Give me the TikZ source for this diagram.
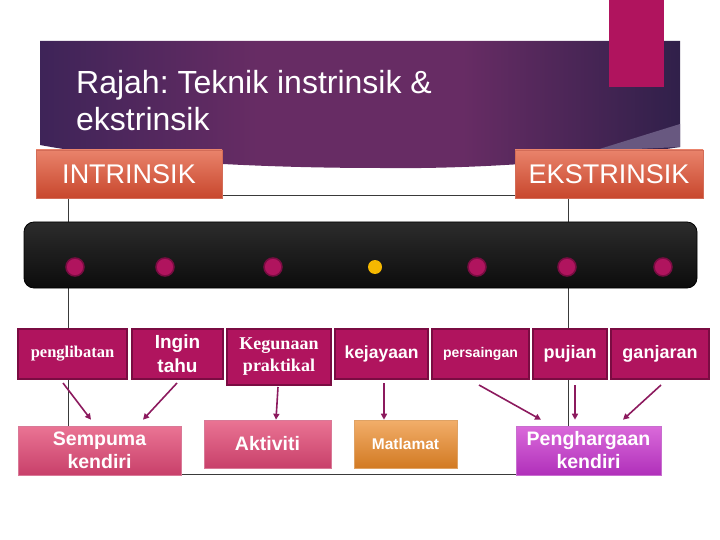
\documentclass[tikz,border=0pt]{standalone}
\usepackage{fontspec}
\setmainfont{Liberation Sans}
\newfontfamily\serifkotak{Liberation Serif}
\usetikzlibrary{arrows.meta}
\frenchspacing
\definecolor{ungu}{HTML}{B0145E}
\definecolor{ungugelap}{HTML}{7A0C42}
\definecolor{anakpanah}{HTML}{8C1A5E}
\definecolor{garis}{HTML}{3A3A3A}
\definecolor{banKiri}{HTML}{3E2458}
\definecolor{banTengah}{HTML}{672C64}
\definecolor{banKanan}{HTML}{30204A}
\definecolor{banCerah}{HTML}{685880}
\definecolor{jinggaAtas}{HTML}{E9836B}
\definecolor{jinggaBawah}{HTML}{C8472D}
\definecolor{merahJambuAtas}{HTML}{EA7494}
\definecolor{merahJambuBawah}{HTML}{C8406A}
\definecolor{oren1}{HTML}{F2AE6A}
\definecolor{oren2}{HTML}{D27A22}
\definecolor{violet1}{HTML}{DA6ADA}
\definecolor{violet2}{HTML}{B030BA}
\definecolor{kuning}{HTML}{F5B800}
\definecolor{hitam1}{HTML}{2C2C2C}
\definecolor{hitam2}{HTML}{0C0C0C}
\pgfdeclarehorizontalshading{bannerungu}{100bp}{color(0bp)=(banKiri); color(25bp)=(banKiri); color(42bp)=(banTengah); color(58bp)=(banTengah); color(75bp)=(banKanan); color(100bp)=(banKanan)}
\begin{document}
\begin{tikzpicture}[x=1pt,y=-1pt,
  atas/.style={draw=ungugelap, fill=ungu, line width=2pt, text=white, align=center, minimum height=50pt, inner sep=1pt},
  bawah/.style 2 args={draw=#2!70!white, line width=0.6pt, top color=#1, bottom color=#2, text=white, align=center, inner sep=1pt, font=\fontsize{19.5}{23}\selectfont\bfseries},
  tajuk/.style={draw=jinggaBawah!80!white, line width=0.5pt, top color=jinggaAtas, bottom color=jinggaBawah, text=white, minimum height=48pt, font=\fontsize{27}{30}\selectfont},
  titik/.style={circle, fill=ungu, draw=ungugelap, line width=1.5pt, minimum size=18pt, inner sep=0pt},
  anak/.style={anakpanah, line width=1.6pt, -{Triangle[length=6pt,width=6pt]}}]
\useasboundingbox (0,0) rectangle (720,540);

%Banner
\shade[shading=bannerungu]
  (40,41) -- (680,41) -- (680,147) .. controls (560,165) and (450,169) .. (380,168) .. controls (250,168) and (120,160) .. (40,145) -- cycle;
\fill[banCerah] (593,151) -- (680,124) -- (680,147) -- cycle;
\fill[ungu] (609,0) rectangle (664,87);
\node[anchor=north west, align=left, text=white, inner sep=0pt, font=\fontsize{32}{37}\selectfont] (judul) at (76,70) {Rajah: Teknik instrinsik \&\\ekstrinsik};

%Frame lines
\coordinate (ka) at (68,196);
\coordinate (kb) at (568,474);
\draw[garis, line width=1pt] (ka) rectangle (kb);

%Headings
\node[tajuk, minimum width=186pt] (intr) at (129,174) {INTRINSIK};
\node[tajuk, minimum width=188pt] (ekst) at (609,174) {EKSTRINSIK};

%Bar with dots
\node[draw=black, line width=0.8pt, rounded corners=10pt, top color=hitam1, bottom color=hitam2, minimum width=673pt, minimum height=66pt] (batang) at (360.5,255) {};
\foreach \x [count=\i] in {75,165,273,477,567,663}
  \node[titik] (t\i) at (\x,267) {};
\node[circle, fill=kuning, minimum size=14pt, inner sep=0pt] (tk) at (375,267) {};

%Top row
\node[atas, minimum width=109pt, font=\serifkotak\fontsize{16.5}{19}\selectfont\bfseries] (pengl) at (72.5,354) {penglibatan};
\node[atas, minimum width=91pt, font=\fontsize{19}{24}\selectfont\bfseries] (ingin) at (177.5,354) {Ingin\\tahu};
\node[atas, minimum width=104pt, minimum height=56pt, font=\serifkotak\fontsize{18}{22}\selectfont\bfseries] (kegun) at (279,357) {Kegunaan\\praktikal};
\node[atas, minimum width=93pt, font=\fontsize{17.5}{20}\selectfont\bfseries] (kejay) at (381.5,354) {kejayaan};
\node[atas, minimum width=97pt, font=\fontsize{14}{16}\selectfont\bfseries] (persa) at (480.5,354) {persaingan};
\node[atas, minimum width=74pt, font=\fontsize{18}{20}\selectfont\bfseries] (pujian) at (570,354) {pujian};
\node[atas, minimum width=98pt, font=\fontsize{18}{20}\selectfont\bfseries] (ganj) at (660,354) {ganjaran};

%Bottom row
\node[bawah={merahJambuAtas}{merahJambuBawah}, minimum width=163pt, minimum height=49pt] (semp) at (99.5,450.5) {Sempuma\\kendiri};
\node[bawah={merahJambuAtas}{merahJambuBawah}, minimum width=127pt, minimum height=48pt] (akt) at (267.5,444) {Aktiviti};
\node[bawah={oren1}{oren2}, minimum width=103pt, minimum height=48pt, font=\fontsize{15.5}{18}\selectfont\bfseries] (mat) at (405.5,444) {Matlamat};
\node[bawah={violet1}{violet2}, minimum width=145pt, minimum height=49pt] (peng) at (588.5,450.5) {Penghargaan\\kendiri};

%Arrows
\draw[anak] ([xshift=-9.5pt,yshift=-3pt]pengl.south) -- ([xshift=-8.5pt,yshift=6pt]semp.north);
\draw[anak] ([xshift=-0.5pt,yshift=-3pt]ingin.south) -- ([xshift=43.5pt,yshift=6pt]semp.north);
\draw[anak] ([xshift=-1pt,yshift=-1pt]kegun.south) -- ([xshift=8.5pt]akt.north);
\draw[anak] ([xshift=2.5pt,yshift=-3pt]kejay.south) -- ([xshift=-21.5pt]mat.north);
\draw[anak] ([xshift=-1.5pt,yshift=-5pt]persa.south) -- ([xshift=-47.5pt,yshift=6pt]peng.north);
\draw[anak] ([xshift=5pt,yshift=-5pt]pujian.south) -- ([xshift=-13.5pt,yshift=6pt]peng.north);
\draw[anak] ([xshift=1pt,yshift=-5pt]ganj.south) -- ([xshift=34.5pt,yshift=6pt]peng.north);
\end{tikzpicture}
\end{document}
